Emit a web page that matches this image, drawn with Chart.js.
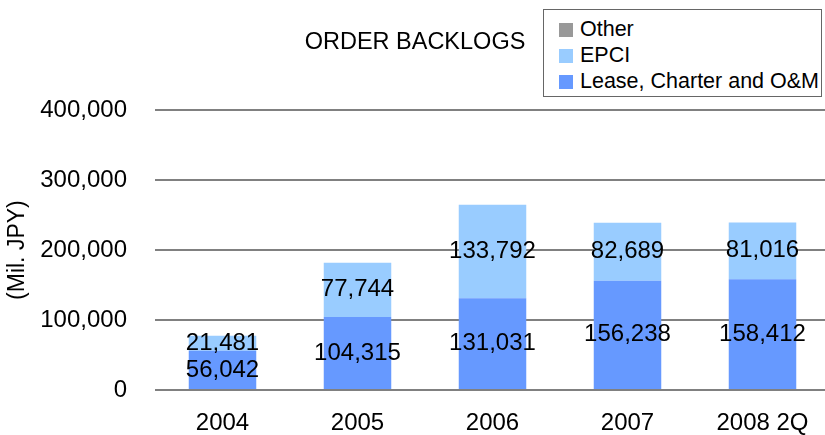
<!DOCTYPE html>
<html>
<head>
<meta charset="utf-8">
<script src="https://cdn.jsdelivr.net/npm/chart.js@4.4.1/dist/chart.umd.min.js"></script>
<style>
    body { margin: 0; background: #fff; overflow: hidden; }
    #wrap { position: relative; width: 830px; height: 440px; }
    #legend {
        position: absolute; left: 543px; top: 9px; width: 279px; height: 88px;
        border: 1px solid #666; box-sizing: border-box; background: #fff;
        font-family: "Liberation Sans", Arial, sans-serif; font-size: 21.5px; color: #000;
        padding: 6px 0 0 15px;
    }
    #legend div { height: 26px; line-height: 26px; white-space: nowrap; }
    #legend span { display: inline-block; width: 14px; height: 14px; margin-right: 7px; vertical-align: -1px; }
</style>
</head>
<body>
<div id="wrap">
    <canvas id="backlogChart" width="830" height="440"></canvas>
    <div id="legend"></div>
</div>
<script>
// Order backlogs, Mil. JPY
const categories = ['2004', '2005', '2006', '2007', '2008 2Q'];
const leaseValues = [56042, 104315, 131031, 156238, 158412];
const epciValues = [21481, 77744, 133792, 82689, 81016];
const otherValues = [0, 0, 0, 0, 0];
const yMax = 400000;
const yStep = 100000;

const FONT = '"Liberation Sans", Arial, sans-serif';

// write the value in the middle of every segment
const segmentLabels = {
    id: 'segmentLabels',
    afterDatasetsDraw(chart) {
        const { ctx } = chart;
        ctx.save();
        ctx.font = `24px ${FONT}`;
        ctx.fillStyle = '#000';
        ctx.textAlign = 'center';
        ctx.textBaseline = 'middle';
        chart.data.datasets.forEach((ds, i) => {
            chart.getDatasetMeta(i).data.forEach((bar, j) => {
                const v = ds.data[j];
                if (!v) return;
                ctx.fillText(v.toLocaleString('en-US'), bar.x, (bar.y + bar.base) / 2);
            });
        });
        ctx.restore();
    }
};

const chart = new Chart(document.getElementById('backlogChart'), {
    type: 'bar',
    data: {
        labels: categories,
        datasets: [
            { label: 'Lease, Charter and O&M', data: leaseValues, backgroundColor: '#6699FF' },
            { label: 'EPCI', data: epciValues, backgroundColor: '#99CCFF' },
            { label: 'Other', data: otherValues, backgroundColor: '#999999' }
        ]
    },
    options: {
        responsive: false,
        animation: false,
        layout: { padding: { left: 0, right: 0, top: 0, bottom: 0 } },
        datasets: { bar: { barPercentage: 0.5, categoryPercentage: 1, borderWidth: 0 } },
        plugins: {
            legend: { display: false },
            tooltip: { enabled: false },
            title: {
                display: true,
                text: 'ORDER BACKLOGS',
                color: '#000',
                font: { family: FONT, size: 23.5, weight: 'normal' },
                padding: { top: 28, bottom: 54 }
            }
        },
        scales: {
            x: {
                stacked: true,
                grid: { display: false },
                border: { display: false },
                ticks: { color: '#000', font: { family: FONT, size: 24 }, padding: 11 },
                afterFit: (s) => { s.height = 50; }
            },
            y: {
                stacked: true,
                min: 0,
                max: yMax,
                ticks: {
                    stepSize: yStep,
                    color: '#000',
                    padding: 28,
                    font: { family: FONT, size: 24 },
                    callback: (v) => v.toLocaleString('en-US')
                },
                grid: { color: '#808080', lineWidth: 2, drawTicks: false },
                border: { display: false },
                title: {
                    display: true,
                    text: '(Mil. JPY)',
                    color: '#000',
                    font: { family: FONT, size: 23 },
                    padding: { top: 4, bottom: 0 }
                },
                afterFit: (s) => { s.width = 155; }
            }
        }
    },
    plugins: [segmentLabels]
});

// boxed legend, top item first
const legendEl = document.getElementById('legend');
chart.data.datasets.slice().reverse().forEach(ds => {
    const row = document.createElement('div');
    row.innerHTML = `<span style="background:${ds.backgroundColor}"></span>${ds.label}`;
    legendEl.appendChild(row);
});
</script>
</body>
</html>
